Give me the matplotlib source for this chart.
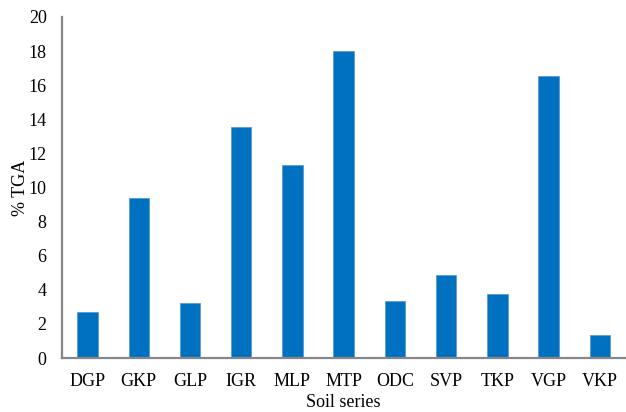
import matplotlib
matplotlib.use("Agg")
import matplotlib.pyplot as plt
import numpy as np

categories = ["DGP", "GKP", "GLP", "IGR", "MLP", "MTP", "ODC", "SVP", "TKP", "VGP", "VKP"]
values = [2.7, 9.4, 3.25, 13.55, 11.3, 18.0, 3.33, 4.88, 3.75, 16.55, 1.35]
yticks = list(range(0, 21, 2))

plt.rcParams['font.family'] = ['Liberation Serif', 'DejaVu Serif']

fig = plt.figure(figsize=(6.26, 4.12), dpi=100)
ax = fig.add_axes([0.099, 0.131, 0.9, 0.828])
x = np.arange(len(categories))
ax.bar(x, values, width=0.4, color="#0070C0", edgecolor="#5B9BD5", linewidth=0.6)
ax.set_xlim(-0.5, len(categories) - 0.5)
ax.set_ylim(0, 20)
ax.set_yticks(yticks)
ax.set_xticks(x)
ax.set_xticklabels(categories)
for s in ["top", "right"]:
    ax.spines[s].set_visible(False)
for s in ["left", "bottom"]:
    ax.spines[s].set_color("#878787")
    ax.spines[s].set_linewidth(1.6)
ax.tick_params(axis="both", length=0, labelsize=13)
ax.tick_params(axis="x", pad=11)
ax.tick_params(axis="y", pad=11)
ax.set_xlabel("Soil series", fontsize=13, labelpad=3)
ax.set_ylabel("% TGA", fontsize=13, labelpad=0)
fig.savefig("out.png", dpi=100)
